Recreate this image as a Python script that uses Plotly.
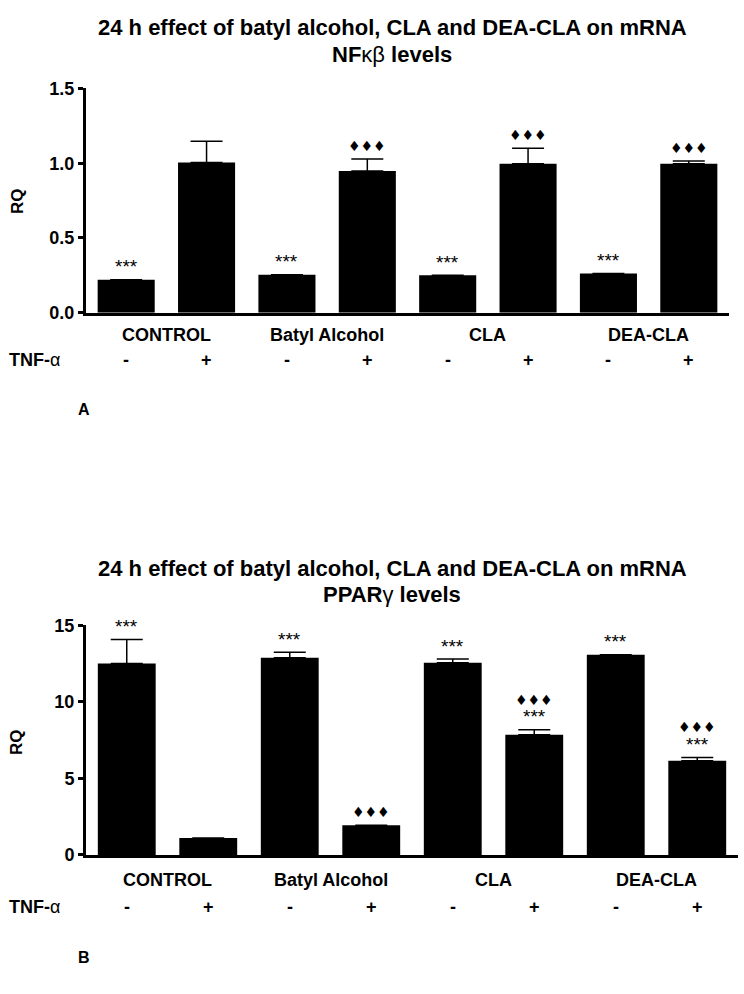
import plotly.graph_objects as go

W, H = 744, 994

groups = ["CONTROL", "Batyl Alcohol", "CLA", "DEA-CLA"]
tnf = ["-", "+", "-", "+", "-", "+", "-", "+"]

nf_values = [0.22, 1.005, 0.255, 0.947, 0.251, 0.997, 0.262, 0.997]
nf_errors = [0.0, 0.141, 0.0, 0.081, 0.0, 0.103, 0.0, 0.018]
nf_stars = [True, False, True, False, True, False, True, False]
nf_diamonds = [False, False, False, True, False, True, False, True]

pp_values = [12.5, 1.11, 12.88, 1.94, 12.56, 7.86, 13.08, 6.15]
pp_errors = [1.58, 0.0, 0.36, 0.0, 0.24, 0.32, 0.0, 0.22]
pp_stars = [True, False, True, False, True, True, True, True]
pp_diamonds = [False, False, False, True, False, True, False, True]

FONT = "Liberation Sans, Arial, sans-serif"
idx = list(range(len(tnf)))


def px_y(p):
    return 1 - p / H


def px_x(p):
    return p / W


fig = go.Figure()

panels = [
    dict(vals=nf_values, errs=nf_errors, stars=nf_stars, dia=nf_diamonds,
         xa="x", ya="y", xd=[86, 729], yd=[309, 80], rng=[0, 1.5],
         tickvals=[0, 0.5, 1.0, 1.5], ticktext=["0.0", "0.5", "1.0", "1.5"],
         title=["24 h effect of batyl alcohol, CLA and DEA-CLA on mRNA",
                "NF<span style='font-weight:normal'>κβ</span> levels"],
         title_y=[18, 45], cat_y=332, tnf_y=357, letter="A", letter_y=408, rq_y=195),
    dict(vals=pp_values, errs=pp_errors, stars=pp_stars, dia=pp_diamonds,
         xa="x2", ya="y2", xd=[86, 738], yd=[862.3, 628], rng=[0, 15],
         tickvals=[0, 5, 10, 15], ticktext=["0", "5", "10", "15"],
         title=["24 h effect of batyl alcohol, CLA and DEA-CLA on mRNA",
                "PPAR<span style='font-weight:normal'>γ</span> levels"],
         title_y=[570, 597], cat_y=888, tnf_y=915, letter="B", letter_y=967, rq_y=747),
]

annotations = []
layout_axes = {}

for k, p in enumerate(panels):
    fig.add_trace(go.Bar(
        x=idx, y=p["vals"], xaxis=p["xa"], yaxis=p["ya"],
        width=0.71, marker=dict(color="black", line=dict(width=0)),
        error_y=dict(type="data", array=p["errs"], arrayminus=[0] * 8,
                     symmetric=False, color="black", thickness=1.5, width=16),
        showlegend=False, hoverinfo="skip",
    ))
    sfx = "" if k == 0 else "2"
    layout_axes["xaxis" + sfx] = dict(
        domain=[px_x(p["xd"][0]), px_x(p["xd"][1])], range=[-0.5, 7.5],
        anchor=p["ya"], showticklabels=False, ticks="", showgrid=False,
        zeroline=False, showline=True, linecolor="black", linewidth=3,
        fixedrange=True,
    )
    layout_axes["yaxis" + sfx] = dict(
        domain=[px_y(p["yd"][0]), px_y(p["yd"][1])], range=p["rng"],
        anchor=p["xa"], tickvals=p["tickvals"], ticktext=p["ticktext"],
        ticks="outside", ticklen=5, tickwidth=3, tickcolor="black",
        showgrid=False, zeroline=False, showline=True, linecolor="black",
        linewidth=3, tickfont=dict(family=FONT, size=18, color="black", weight="bold"),
        fixedrange=True,
    )
    annotations.append(dict(
        text="RQ", x=px_x(17), y=px_y(p["rq_y"]), xref="paper", yref="paper",
        xanchor="center", yanchor="middle", textangle=-90, showarrow=False,
        font=dict(family=FONT, size=17, color="black", weight="bold")))
    # titles
    for t, ty in zip(p["title"], p["title_y"]):
        annotations.append(dict(
            text=t, x=px_x(392), y=px_y(ty), xref="paper", yref="paper",
            xanchor="center", yanchor="middle", showarrow=False,
            font=dict(family=FONT, size=22, color="black", weight="bold")))
    # significance marks
    for i in idx:
        top = p["vals"][i] + p["errs"][i]
        shift = 0
        if p["stars"][i]:
            annotations.append(dict(
                text="***", x=i, y=top, xref=p["xa"], yref=p["ya"],
                xanchor="center", yanchor="middle", yshift=13, showarrow=False,
                font=dict(family=FONT, size=19, color="black")))
            shift = 17
        if p["dia"][i]:
            annotations.append(dict(
                text="♦♦♦", x=i, y=top, xref=p["xa"], yref=p["ya"],
                xanchor="center", yanchor="middle", yshift=13 + shift, showarrow=False,
                font=dict(family="DejaVu Sans, sans-serif", size=14, color="black")))
    # group labels
    for g, name in enumerate(groups):
        annotations.append(dict(
            text=name, x=2 * g + 0.5, y=px_y(p["cat_y"]), xref=p["xa"], yref="paper",
            xanchor="center", yanchor="middle", showarrow=False,
            font=dict(family=FONT, size=18, color="black", weight="bold")))
    for i, s in enumerate(tnf):
        annotations.append(dict(
            text=s, x=i, y=px_y(p["tnf_y"]), xref=p["xa"], yref="paper",
            xanchor="center", yanchor="middle", showarrow=False,
            font=dict(family=FONT, size=18, color="black", weight="bold")))
    annotations.append(dict(
        text="TNF-<span style='font-weight:normal'>α</span>", x=px_x(7), y=px_y(p["tnf_y"]),
        xref="paper", yref="paper", xanchor="left", yanchor="middle", showarrow=False,
        font=dict(family=FONT, size=18, color="black", weight="bold")))
    annotations.append(dict(
        text=p["letter"], x=px_x(84), y=px_y(p["letter_y"]), xref="paper", yref="paper",
        xanchor="center", yanchor="middle", showarrow=False,
        font=dict(family=FONT, size=16, color="black", weight="bold")))

fig.update_layout(
    width=W, height=H, margin=dict(l=0, r=0, t=0, b=0),
    paper_bgcolor="white", plot_bgcolor="white",
    annotations=annotations, bargap=0.29,
    **layout_axes,
)

fig.write_html(
    "out.html",
    config={"displayModeBar": False, "staticPlot": True},
    post_script="document.body.style.margin='0';document.body.style.overflow='hidden';",
)
